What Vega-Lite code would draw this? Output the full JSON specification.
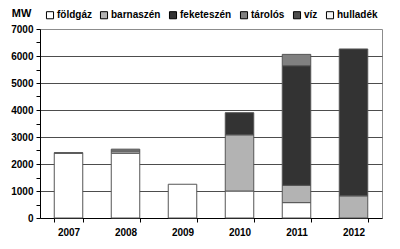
{
  "$schema": "https://vega.github.io/schema/vega-lite/v6.json",
  "autosize": "none",
  "width": 342,
  "height": 189,
  "padding": {"left": 40, "top": 29, "right": 18, "bottom": 31},
  "background": "white",
  "config": {
    "font": "Liberation Sans",
    "view": {"stroke": "#8c8c8c", "strokeWidth": 1}
  },
  "data": {
    "values": [
      {"year": "2007", "src": "földgáz", "v": 2400, "k": 0},
      {"year": "2007", "src": "feketeszén", "v": 20, "k": 2},
      {"year": "2008", "src": "földgáz", "v": 2400, "k": 0},
      {"year": "2008", "src": "barnaszén", "v": 80, "k": 1},
      {"year": "2008", "src": "tárolós", "v": 70, "k": 3},
      {"year": "2009", "src": "földgáz", "v": 1250, "k": 0},
      {"year": "2010", "src": "földgáz", "v": 1000, "k": 0},
      {"year": "2010", "src": "barnaszén", "v": 2080, "k": 1},
      {"year": "2010", "src": "feketeszén", "v": 820, "k": 2},
      {"year": "2011", "src": "földgáz", "v": 570, "k": 0},
      {"year": "2011", "src": "barnaszén", "v": 640, "k": 1},
      {"year": "2011", "src": "feketeszén", "v": 4430, "k": 2},
      {"year": "2011", "src": "tárolós", "v": 420, "k": 3},
      {"year": "2012", "src": "barnaszén", "v": 820, "k": 1},
      {"year": "2012", "src": "feketeszén", "v": 5440, "k": 2}
    ]
  },
  "mark": {"type": "bar", "stroke": "#555555", "strokeWidth": 1},
  "encoding": {
    "x": {
      "field": "year",
      "type": "nominal",
      "scale": {"paddingInner": 0.5, "paddingOuter": 0.25},
      "axis": {
        "title": null,
        "labelAngle": 0,
        "labelFont": "Liberation Sans",
        "labelFontSize": 10,
        "labelFontWeight": "bold",
        "labelColor": "#000000",
        "labelPadding": 5,
        "tickBand": "extent",
        "tickSize": 4,
        "tickColor": "#000000",
        "domainColor": "#000000",
        "grid": false
      }
    },
    "y": {
      "field": "v",
      "type": "quantitative",
      "stack": "zero",
      "scale": {"domain": [0, 7000], "nice": false},
      "axis": {
        "title": "MW",
        "titleAngle": 0,
        "titleX": -19,
        "titleY": -16,
        "titleAlign": "center",
        "titleBaseline": "middle",
        "titleFont": "Liberation Sans",
        "titleFontSize": 11,
        "titleFontWeight": "bold",
        "titleColor": "#000000",
        "values": [0, 500, 1000, 1500, 2000, 2500, 3000, 3500, 4000, 4500, 5000, 5500, 6000, 6500, 7000],
        "labelExpr": "datum.value % 1000 === 0 ? format(datum.value, 'd') : ''",
        "labelFont": "Liberation Sans",
        "labelFontSize": 10,
        "labelFontWeight": "bold",
        "labelColor": "#000000",
        "labelPadding": 3,
        "tickSize": 4,
        "tickColor": "#000000",
        "domainColor": "#000000",
        "grid": true,
        "gridColor": "#4d4d4d",
        "gridOpacity": {"condition": {"test": "datum.value % 1000 === 0 && datum.value > 0 && datum.value < 7000", "value": 1}, "value": 0}
      }
    },
    "color": {
      "field": "src",
      "type": "nominal",
      "scale": {
        "domain": ["földgáz", "barnaszén", "feketeszén", "tárolós", "víz", "hulladék"],
        "range": ["#ffffff", "#b3b3b3", "#333333", "#808080", "#4d4d4d", "#f5f5f5"]
      },
      "legend": {
        "title": null,
        "orient": "none",
        "direction": "horizontal",
        "legendX": 5,
        "legendY": -19,
        "symbolType": "square",
        "symbolSize": 50,
        "symbolStrokeColor": "#000000",
        "symbolStrokeWidth": 1,
        "symbolOpacity": 1,
        "labelFont": "Liberation Sans",
        "labelFontSize": 10,
        "labelFontWeight": "bold",
        "labelColor": "#000000",
        "labelOffset": 2,
        "columnPadding": 6
      }
    },
    "order": {"field": "k", "type": "quantitative", "sort": "ascending"}
  }
}
